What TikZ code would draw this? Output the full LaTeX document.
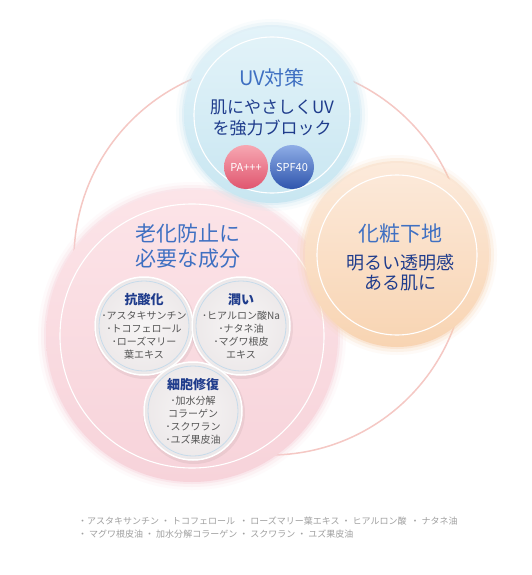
\documentclass[tikz,border=0pt]{standalone}
\usepackage{fontspec}
\setmainfont{Noto Sans CJK JP}
\definecolor{ringpink}{HTML}{F5C8C4}
\definecolor{bluetop}{HTML}{E3F3F9}
\definecolor{bluebot}{HTML}{C8E6F1}
\definecolor{pinktop}{HTML}{FCE4E8}
\definecolor{pinkbot}{HTML}{F7D3DA}
\definecolor{orangetop}{HTML}{FCEADB}
\definecolor{orangebot}{HTML}{F8D4B2}
\definecolor{smallin}{HTML}{F7F5F5}
\definecolor{smallout}{HTML}{ECE8E9}
\definecolor{smallring}{HTML}{C6DBEA}
\definecolor{titleblue}{HTML}{3F70C2}
\definecolor{navy}{HTML}{1F3C8C}
\definecolor{itemgray}{HTML}{555555}
\definecolor{footgray}{HTML}{A0A0A0}
\definecolor{patop}{HTML}{F7A7B2}
\definecolor{pabot}{HTML}{E0566F}
\definecolor{spftop}{HTML}{8EADE6}
\definecolor{spfbot}{HTML}{2F55AD}
\newcommand{\smalltitle}[1]{{\color{navy}\bfseries\fontsize{13}{16}\selectfont #1}}
\tikzset{
  disc/.style={circle, inner sep=0pt, minimum size=#1},
  innerring/.style={white, line width=1.1pt},
  smalldisc/.style={circle, inner sep=0pt, minimum size=98, inner color=smallin, outer color=smallout, draw=white, line width=1.5pt},
  bigtitle/.style={titleblue, align=center, font=\fontsize{21}{25}\selectfont},
  subtitle/.style={navy, align=center, font=\fontsize{17}{20.5}\selectfont},
  itemtext/.style={itemgray, align=center, font=\fontsize{10}{13}\selectfont},
  badge/.style={circle, inner sep=0pt, minimum size=44, white, font=\fontsize{11}{12}\selectfont}
}
\begin{document}
\begin{tikzpicture}[x=1pt, y=-1pt]
\useasboundingbox (0,0) rectangle (531,575);
\fill[white] (0,0) rectangle (531,575);

\draw[ringpink, line width=1.5pt] (270,259) circle (196);

% pink disc
\foreach \d/\o in {2/.35,5/.2,8/.1}
  \fill[pinkbot, opacity=\o] (192,336) circle ({146+\d});
\node[disc=292, top color=pinktop, bottom color=pinkbot] (aging) at (192,336) {};
\draw[innerring] (aging.center) circle (132);

% orange disc
\foreach \d/\o in {2/.35,5/.2,8/.1}
  \fill[orangebot, opacity=\o] (397,255) circle ({92+\d});
\node[disc=184, top color=orangetop, bottom color=orangebot] (base) at (397,255) {};
\draw[innerring] (base.center) circle (80);

% blue disc
\foreach \d/\o in {2/.35,5/.2,8/.1}
  \fill[bluebot, opacity=\o] (272,115) circle ({88+\d});
\node[disc=176, top color=bluetop, bottom color=bluebot] (uv) at (272,115) {};
\draw[innerring] (uv.center) circle (78);

\node[bigtitle, font=\fontsize{20}{24}\selectfont] (uvtitle) at (272,78) {UV対策};
\node[subtitle] (uvtext) at (272,118) {肌にやさしくUV\\を強力ブロック};
\node[badge, top color=patop, bottom color=pabot] (pa) at (246,167) {PA+++};
\node[badge, top color=spftop, bottom color=spfbot] (spf) at (292,167) {SPF40};

\node[bigtitle] (basetitle) at (400,234) {化粧下地};
\node[subtitle, font=\fontsize{18}{20}\selectfont] (basetext) at (400,273) {明るい透明感\\ある肌に};

\node[bigtitle] (agingtitle) at (188,246) {老化防止に\\必要な成分};

% small discs
\foreach \n/\x/\y in {anti/144/326, moist/241/326, repair/193/411}
{
  \fill[black, opacity=.05] (\x+1,\y+2) circle (51);
  \node[smalldisc] (\n) at (\x,\y) {};
  \draw[smallring, line width=.8pt] (\n.center) circle (45);
}
\node[itemtext] (antitext) at (anti) {\smalltitle{抗酸化}\\[2pt]･アスタキサンチン\\･トコフェロール\\･ローズマリー\\葉エキス};
\node[itemtext] (moisttext) at (moist) {\smalltitle{潤い}\\[2pt]･ヒアルロン酸Na\\･ナタネ油\\･マグワ根皮\\エキス};
\node[itemtext] (repairtext) at (repair) {\smalltitle{細胞修復}\\[2pt]･加水分解\\コラーゲン\\･スクワラン\\･ユズ果皮油};

\node[footgray, anchor=west, inner sep=0pt, font=\fontsize{9}{12}\selectfont] (footone) at (78,521) {・アスタキサンチン ・ トコフェロール\ \ ・ ローズマリー葉エキス ・ ヒアルロン酸\ \ ・ ナタネ油};
\node[footgray, anchor=west, inner sep=0pt, font=\fontsize{9}{12}\selectfont] (foottwo) at (78,534) {・ マグワ根皮油 ・ 加水分解コラーゲン ・ スクワラン ・ ユズ果皮油};
\end{tikzpicture}
\end{document}
